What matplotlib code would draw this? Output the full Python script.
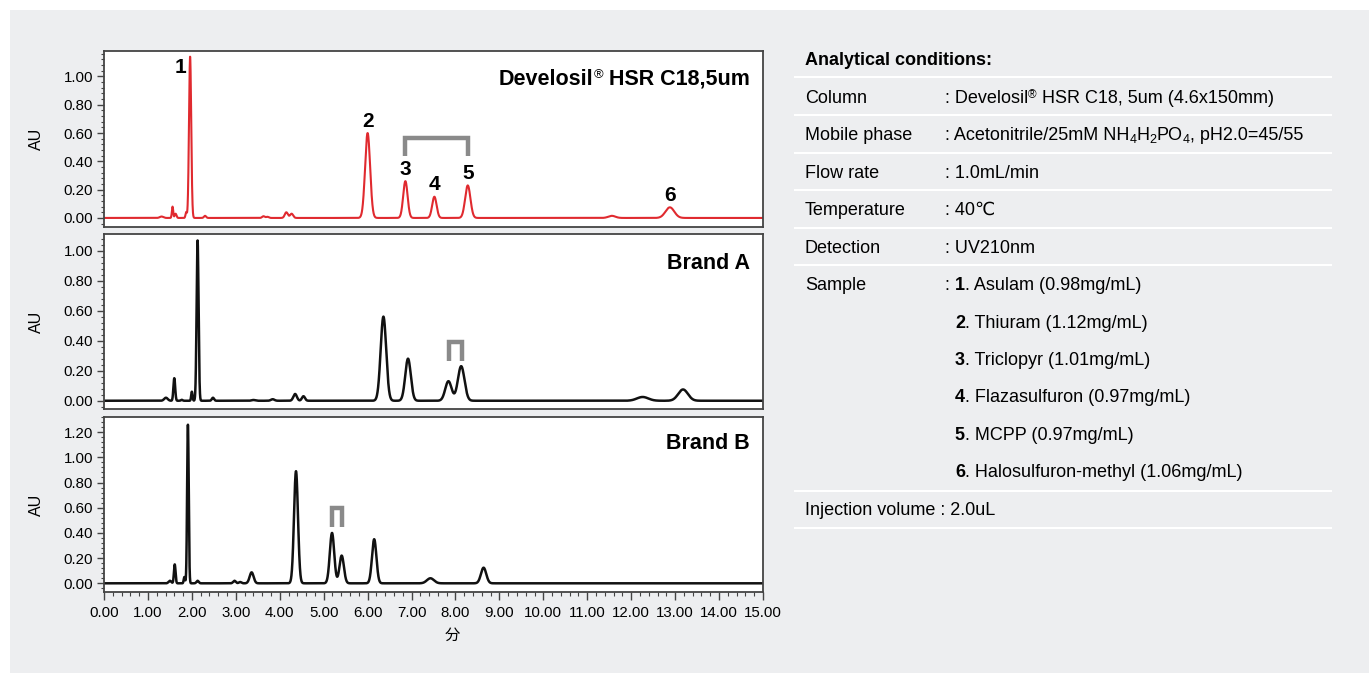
import numpy as np
import matplotlib
matplotlib.use("Agg")
import matplotlib.pyplot as plt
from matplotlib.patches import Rectangle
from matplotlib.transforms import IdentityTransform
from matplotlib.ticker import MultipleLocator, FormatStrFormatter

plt.rcParams['font.family'] = ['Liberation Sans', 'DejaVu Sans', 'Noto Sans CJK JP']

W, H = 1369, 675

# peaks: retention time (min), height (AU), width (sigma, min)
dev_rt = [1.31, 1.56, 1.63, 1.87, 1.96, 2.30, 3.63, 3.72, 4.15, 4.27, 6.00, 6.86, 7.52, 8.28, 11.56, 12.88]
dev_h = [0.01, 0.08, 0.03, 0.04, 1.14, 0.015, 0.012, 0.008, 0.04, 0.03, 0.60, 0.26, 0.15, 0.23, 0.015, 0.075]
dev_w = [0.04, 0.015, 0.02, 0.015, 0.025, 0.025, 0.03, 0.03, 0.035, 0.035, 0.057, 0.05, 0.05, 0.06, 0.08, 0.1]

a_rt = [1.41, 1.60, 1.77, 2.00, 2.13, 2.48, 3.40, 3.84, 4.35, 4.54, 6.36, 6.92, 7.84, 8.13, 12.26, 13.18]
a_h = [0.02, 0.15, 0.006, 0.06, 1.067, 0.02, 0.005, 0.01, 0.045, 0.03, 0.56, 0.28, 0.13, 0.23, 0.025, 0.075]
a_w = [0.04, 0.02, 0.02, 0.015, 0.022, 0.025, 0.04, 0.04, 0.04, 0.035, 0.063, 0.063, 0.072, 0.075, 0.13, 0.11]

b_rt = [1.50, 1.61, 1.83, 1.91, 2.13, 2.97, 3.10, 3.36, 4.37, 5.19, 5.41, 6.15, 7.43, 8.64]
b_h = [0.02, 0.15, 0.05, 1.26, 0.02, 0.02, 0.01, 0.087, 0.89, 0.40, 0.22, 0.35, 0.04, 0.124]
b_w = [0.03, 0.018, 0.015, 0.018, 0.025, 0.03, 0.03, 0.045, 0.045, 0.05, 0.05, 0.05, 0.08, 0.06]

# numbered peaks on the Develosil trace (index into dev_* lists)
peak_labels = ['1', '2', '3', '4', '5', '6']
peak_index = [4, 10, 11, 12, 13, 15]

# brackets: (left rt, right rt, top AU, bottom AU)
dev_bracket = (6.86, 8.28, 0.565, 0.44)
a_bracket = (7.85, 8.14, 0.39, 0.265)
b_bracket = (5.19, 5.41, 0.60, 0.45)

cond_labels = ['Column', 'Mobile phase', 'Flow rate', 'Temperature', 'Detection', 'Sample']
samples = ['Asulam (0.98mg/mL)', 'Thiuram (1.12mg/mL)', 'Triclopyr (1.01mg/mL)',
           'Flazasulfuron (0.97mg/mL)', 'MCPP (0.97mg/mL)', 'Halosulfuron-methyl (1.06mg/mL)']


def trace(t, rt, h, w):
    y = np.zeros_like(t)
    for c, hh, s in zip(rt, h, w):
        y += hh * np.exp(-0.5 * ((t - c) / s) ** 2)
    return y


fig = plt.figure(figsize=(W / 100, H / 100), dpi=100)
fig.patch.set_facecolor('white')
fig.patches.append(Rectangle((10, 2), W - 10, H - 12, transform=IdentityTransform(),
                             facecolor='#edeef0', edgecolor='none', zorder=-10))
renderer = fig.canvas.get_renderer()


def rich(x, y, parts, size=13):
    # parts: (text, weight, scale, baseline shift in px, downward positive)
    texts = []
    for s, wt, sc, dy in parts:
        tx = fig.text(x, H - y - dy, s, transform=IdentityTransform(), ha='left', va='baseline',
                      fontsize=size * sc, fontweight=wt)
        x = tx.get_window_extent(renderer).x1
        texts.append(tx)
    return x, texts


def rich_right(xr, y, parts, size=13):
    x_end, texts = rich(0, y, parts, size)
    for tx in texts:
        px, py = tx.get_position()
        tx.set_position((px + xr - x_end, py))


def box(top, bottom, left=104, right=763):
    return [left / W, 1 - bottom / H, (right - left) / W, (bottom - top) / H]


axes = [fig.add_axes(box(51, 227)), fig.add_axes(box(234, 409)), fig.add_axes(box(417, 592))]
ylims = [(-0.064, 1.18), (-0.055, 1.11), (-0.069, 1.32)]
t = np.linspace(0, 15, 8000)
series = [(dev_rt, dev_h, dev_w, '#e02a2f', 1.5),
          (a_rt, a_h, a_w, '#111111', 1.8),
          (b_rt, b_h, b_w, '#111111', 1.8)]

for i, ax in enumerate(axes):
    rt, h, w, col, lw = series[i]
    ax.plot(t, trace(t, rt, h, w), color=col, lw=lw)
    ax.set_xlim(0, 15)
    ax.set_ylim(*ylims[i])
    for sp in ax.spines.values():
        sp.set_color('#444444')
        sp.set_linewidth(1.3)
    ax.yaxis.set_major_locator(MultipleLocator(0.2))
    ax.yaxis.set_minor_locator(MultipleLocator(0.04))
    ax.yaxis.set_major_formatter(FormatStrFormatter('%.2f'))
    ax.tick_params(axis='y', which='major', direction='out', length=5, width=1, color='#444444',
                   labelsize=10.8, pad=3)
    ax.tick_params(axis='y', which='minor', direction='out', length=2.5, width=0.8, color='#444444')
    ax.set_ylabel('AU', fontsize=11.5)
    ax.yaxis.set_label_coords(-0.091, 0.5)
    if i < 2:
        ax.tick_params(axis='x', which='both', bottom=False, labelbottom=False)
    else:
        ax.xaxis.set_major_locator(MultipleLocator(1))
        ax.xaxis.set_minor_locator(MultipleLocator(0.2))
        ax.xaxis.set_major_formatter(FormatStrFormatter('%.2f'))
        ax.tick_params(axis='x', which='major', direction='out', length=6, width=1,
                       color='#444444', labelsize=10.8, pad=4)
        ax.tick_params(axis='x', which='minor', direction='out', length=3, width=0.8,
                       color='#444444')

# panel names
rich_right(750, 85, [('Develosil', 'bold', 1, 0), ('®', 'normal', 0.6, -7),
                     (' HSR C18,5um', 'bold', 1, 0)], size=15.5)
rich_right(750, 269, [('Brand A', 'bold', 1, 0)], size=15.5)
rich_right(750, 449, [('Brand B', 'bold', 1, 0)], size=15.5)

# peak numbers on the top trace
for lab, k in zip(peak_labels, peak_index):
    x, y = dev_rt[k], dev_h[k] + 0.085
    if lab == '1':
        x, y = dev_rt[k] - 0.23, dev_h[k] - 0.075
    axes[0].text(x, y, lab, ha='center', va='center', fontsize=15, fontweight='bold')

for ax, (x0, x1, yt, yb) in zip(axes, [dev_bracket, a_bracket, b_bracket]):
    ax.plot([x0, x0, x1, x1], [yb, yt, yt, yb], color='#8a8a8a', lw=3.2,
            solid_joinstyle='miter', solid_capstyle='butt')

fig.text(452 / W, 1 - 635 / H, '分', fontsize=11, ha='center', va='center',
         family=['Noto Sans CJK JP', 'DejaVu Sans'])

# analytical conditions table on the right
fig.text(805, H - 65, 'Analytical conditions:', transform=IdentityTransform(), ha='left',
         va='baseline', fontsize=13, fontweight='bold')

row_y = [97, 134, 172, 209, 247, 284]
for yl in [77, 115, 153, 190, 228, 265, 491, 528]:
    fig.lines.append(plt.Line2D([795, 1331], [H - yl, H - yl], transform=IdentityTransform(),
                                color='white', lw=1.5))

N = 'normal'
B = 'bold'
for lab, yc in zip(cond_labels, row_y):
    fig.text(805, H - yc - 6, lab, transform=IdentityTransform(), ha='left', va='baseline',
             fontsize=13)

vx = 945
rich(vx, row_y[0] + 6, [(': Develosil', N, 1, 0), ('®', N, 0.65, -5), (' HSR C18, 5um (4.6x150mm)', N, 1, 0)])
rich(vx, row_y[1] + 6, [(': Acetonitrile/25mM NH', N, 1, 0), ('4', N, 0.7, 3), ('H', N, 1, 0),
                        ('2', N, 0.7, 3), ('PO', N, 1, 0), ('4', N, 0.7, 3), (', pH2.0=45/55', N, 1, 0)])
rich(vx, row_y[2] + 6, [(': 1.0mL/min', N, 1, 0)])
rich(vx, row_y[3] + 6, [(': 40℃', N, 1, 0)])
rich(vx, row_y[4] + 6, [(': UV210nm', N, 1, 0)])
nx, _ = rich(vx, row_y[5] + 6, [(': ', N, 1, 0)])
sample_y = [284, 322, 359, 396, 434, 471]
for j, (s, yc) in enumerate(zip(samples, sample_y)):
    rich(nx, yc + 6, [(str(j + 1), B, 1, 0), ('. ' + s, N, 1, 0)])

rich(805, 509 + 6, [('Injection volume : 2.0uL', N, 1, 0)])

fig.savefig('out.png', dpi=100, facecolor=fig.get_facecolor())
